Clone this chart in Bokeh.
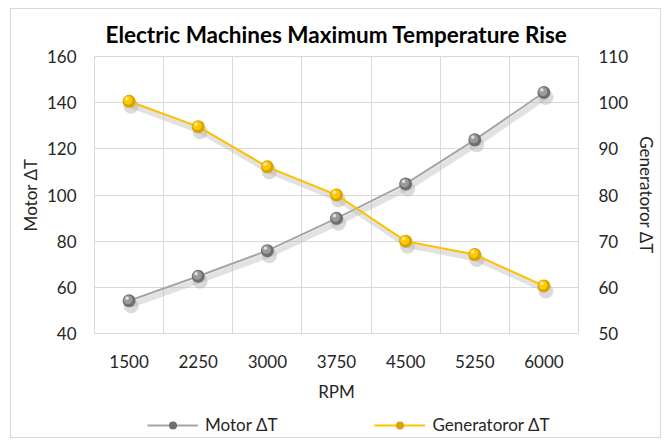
from bokeh.plotting import figure
from bokeh.layouts import column
from bokeh.models import Range1d, LinearAxis, FixedTicker, Legend, LegendItem
from bokeh.embed import file_html
from bokeh.resources import INLINE

# ---- data -------------------------------------------------------------
rpm = ["1500", "2250", "3000", "3750", "4500", "5250", "6000"]
motor_dt = [54.2, 64.8, 75.9, 89.9, 104.8, 123.9, 144.4]
generator_dt = [100.3, 94.8, 86.1, 80.0, 70.0, 67.1, 60.3]
left_ticks = [40, 60, 80, 100, 120, 140, 160]
right_ticks = [50, 60, 70, 80, 90, 100, 110]

title_text = "Electric Machines Maximum Temperature Rise"
x_label = "RPM"
left_label = "Motor ΔT"
right_label = "Generatoror ΔT"

# ---- layout -----------------------------------------------------------
OX, OY = 11, 9            # chart-area offset in the page
W = 649
H1, H2 = 401, 27          # main chart, legend strip
FL, FR, FT, FB = 83, 570, 47, 324
FONT = "Lato"
TXT = "#262626"
GRID = "#d9d9d9"

n = len(rpm)
xs = [i + 0.5 for i in range(n)]
lmin, lmax = left_ticks[0], left_ticks[-1]
rmin, rmax = right_ticks[0], right_ticks[-1]

xu = n / (FR - FL)
lu = (lmax - lmin) / (FB - FT)
ru = (rmax - rmin) / (FB - FT)

p = figure(width=W, height=H1, x_range=Range1d(0, n), y_range=Range1d(lmin, lmax),
           output_backend="svg", toolbar_location=None, title=title_text,
           background_fill_color="white", border_fill_color="white")
p.min_border_left = FL
p.min_border_right = W - FR
p.min_border_top = FT
p.min_border_bottom = H1 - FB
p.outline_line_color = GRID
p.outline_line_width = 1

p.extra_y_ranges = {"right": Range1d(rmin, rmax)}

p.title.text_font = FONT
p.title.text_font_size = "22.5px"
p.title.text_font_style = "bold"
p.title.text_color = "#000000"
p.title.align = "center"
p.title.standoff = 18

def style_axis(ax):
    ax.axis_line_color = None
    ax.major_tick_line_color = None
    ax.minor_tick_line_color = None
    ax.major_tick_out = 0
    ax.major_tick_in = 0
    ax.major_label_text_font = FONT
    ax.major_label_text_font_size = "17px"
    ax.major_label_text_color = TXT
    ax.axis_label_text_font = FONT
    ax.axis_label_text_font_size = "17px"
    ax.axis_label_text_font_style = "normal"
    ax.axis_label_text_color = TXT

xa = p.xaxis[0]
xa.ticker = FixedTicker(ticks=xs)
xa.major_label_overrides = {x: lab for x, lab in zip(xs, rpm)}
xa.axis_label = x_label
style_axis(xa)
xa.major_label_standoff = 21
xa.axis_label_standoff = 10

ya = p.yaxis[0]
ya.ticker = FixedTicker(ticks=left_ticks)
ya.axis_label = left_label
style_axis(ya)
ya.major_label_standoff = 18
ya.axis_label_standoff = 3

ra = LinearAxis(y_range_name="right", ticker=FixedTicker(ticks=right_ticks),
                axis_label=right_label)
style_axis(ra)
ra.major_label_standoff = 20
ra.axis_label_standoff = 5
p.add_layout(ra, "right")

p.xgrid.ticker = FixedTicker(ticks=list(range(n + 1)))
p.ygrid.ticker = FixedTicker(ticks=left_ticks)
for g in (p.xgrid[0], p.ygrid[0]):
    g.grid_line_color = GRID
    g.grid_line_width = 1

# ---- series -----------------------------------------------------------
MOTOR = ("#a5a5a5", "#6f6f6f", "#9a9a9a", "#e8e8e8")
GEN = ("#ffc000", "#d9a300", "#ffc800", "#fff2b0")

def series(fig, vals, unit, range_name, colors, shadow=True):
    line_color, base, mid, hi = colors
    kw = {} if range_name is None else {"y_range_name": range_name}
    if shadow:
        sx = [x + 2 * xu for x in xs]
        fig.line(sx, [v - 4 * unit for v in vals], line_color="#bfbfbf",
                 line_alpha=0.45, line_width=6, **kw)
        fig.scatter(sx, [v - 5 * unit for v in vals], size=15, fill_color="#b0b0b0",
                    fill_alpha=0.45, line_color=None, **kw)
    return [fig.line(xs, vals, line_color=line_color, line_width=2, **kw),
            fig.scatter(xs, vals, size=13, fill_color=base, line_color=None, **kw),
            fig.scatter([x - 1 * xu for x in xs], [v + 1 * unit for v in vals], size=9,
                        fill_color=mid, line_color=None, **kw),
            fig.scatter([x - 2 * xu for x in xs], [v + 2.5 * unit for v in vals],
                        size=3.5, fill_color=hi, fill_alpha=0.9, line_color=None, **kw)]

series(p, motor_dt, lu, None, MOTOR)
series(p, generator_dt, ru, "right", GEN)

# ---- legend strip (its frame is aligned with the chart frame) ----------
q = figure(width=W, height=H2, x_range=Range1d(-100, -99), y_range=Range1d(-100, -99),
           output_backend="svg", toolbar_location=None,
           x_axis_type=None, y_axis_type=None,
           background_fill_color="white", border_fill_color="white")
q.min_border_left = q.min_border_right = q.min_border_top = q.min_border_bottom = 0
q.outline_line_color = None
q.grid.visible = False

m_r = series(q, motor_dt, lu, None, MOTOR, shadow=False)
g_r = series(q, generator_dt, ru, None, GEN, shadow=False)

legend = Legend(items=[LegendItem(label=left_label, renderers=m_r[:2]),
                       LegendItem(label=right_label, renderers=g_r[:2])],
                location=(53, 2), orientation="horizontal",
                border_line_color=None, background_fill_alpha=0,
                padding=0, margin=0, spacing=97, glyph_width=51, glyph_height=20,
                label_standoff=7, label_text_font=FONT, label_text_font_size="17px",
                label_text_color=TXT, label_height=20)
q.add_layout(legend)

layout = column(p, q, spacing=0,
                styles={"position": "relative", "left": f"{OX}px", "top": f"{OY}px",
                        "outline": "1px solid " + GRID})

open("out.html", "w").write(file_html(layout, INLINE))
